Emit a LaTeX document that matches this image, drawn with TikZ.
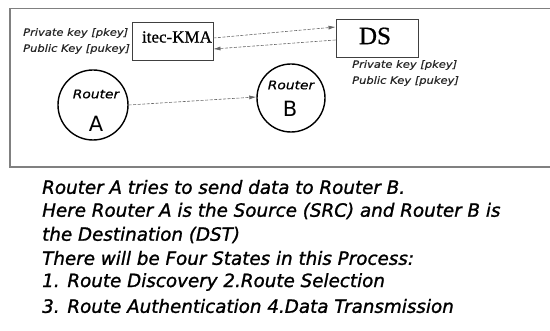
\documentclass[tikz,border=0pt]{standalone}
\usepackage{fontspec}
\setmainfont{DejaVu Sans}
\newfontfamily\serifcap[FakeBold=0.8]{Liberation Serif}
\newfontfamily\bodyfont[FakeBold=1.2]{DejaVu Sans}
\newfontfamily\widefont[FakeStretch=1.15,FakeBold=0.6]{DejaVu Sans}
\usetikzlibrary{arrows.meta}
\begin{document}
\begin{tikzpicture}[x=1pt,y=-1pt,
  frame/.style={draw=black!50,line width=1.3pt},
  boxnode/.style={draw=black!75,line width=0.9pt,inner sep=0pt,minimum width=81pt,minimum height=38pt},
  router/.style={draw=black,line width=1.4pt,circle,minimum size=70pt,inner sep=0pt},
  keytxt/.style={font=\widefont\fontsize{10}{12}\selectfont\itshape,anchor=west,inner sep=0pt,text=black!85},
  link/.style={draw=black!60,dashed,dash pattern=on 3pt off 1.5pt,line width=0.6pt,-{Latex[length=7pt,width=4pt]}},
  bodytxt/.style={font=\bodyfont\fontsize{18.3}{24}\selectfont\itshape,anchor=west,inner sep=0pt}
]
\useasboundingbox (0,0) rectangle (550,331);
\draw[frame] (10,8.5) rectangle (552,167);
\node[boxnode] (kma) at (172.5,41) {};
\node[font=\serifcap\fontsize{17}{18}\selectfont] (kmat) at (177,37) {itec-KMA};
\node[boxnode,minimum width=82pt] (ds) at (377,38) {};
\node[font=\serifcap\fontsize{25}{26}\selectfont] (dst) at (375,36) {DS};
\node[keytxt] (k1) at (23,33) {Private key [pkey]};
\node[keytxt] (k2) at (23,49) {Public Key [pukey]};
\node[keytxt] (k3) at (352,65) {Private key [pkey]};
\node[keytxt] (k4) at (352,81) {Public Key [pukey]};
\node[router] (ra) at (93,105) {};
\node[font=\widefont\fontsize{12}{14}\selectfont\itshape] (ral) at (96,94) {Router};
\node[font=\fontsize{21}{22}\selectfont] (rab) at (96,124) {A};
\node[router,minimum size=68pt] (rb) at (291,98) {};
\node[font=\widefont\fontsize{12}{14}\selectfont\itshape] (rbl) at (291,85) {Router};
\node[font=\fontsize{21}{22}\selectfont] (rbb) at (290,109) {B};
\draw[link] ([yshift=3pt]kma.east) -- ([yshift=11pt]ds.west);
\draw[link] ([yshift=-2pt]ds.west) -- ([yshift=-8pt]kma.east);
\draw[link] (ra.east) -- ([yshift=1pt]rb.west);
\node[bodytxt] (t1) at (42,187) {Router A tries to send data to Router B.};
\node[bodytxt] (t2) at (42,211) {Here Router A is the Source (SRC) and Router B is};
\node[bodytxt] (t3) at (42,235) {the Destination (DST)};
\node[bodytxt] (t4) at (42,258) {There will be Four States in this Process:};
\node[bodytxt] (t5) at (42,282) {1. Route Discovery 2.Route Selection};
\node[bodytxt] (t6) at (42,306) {3. Route Authentication 4.Data Transmission};
\end{tikzpicture}
\end{document}
